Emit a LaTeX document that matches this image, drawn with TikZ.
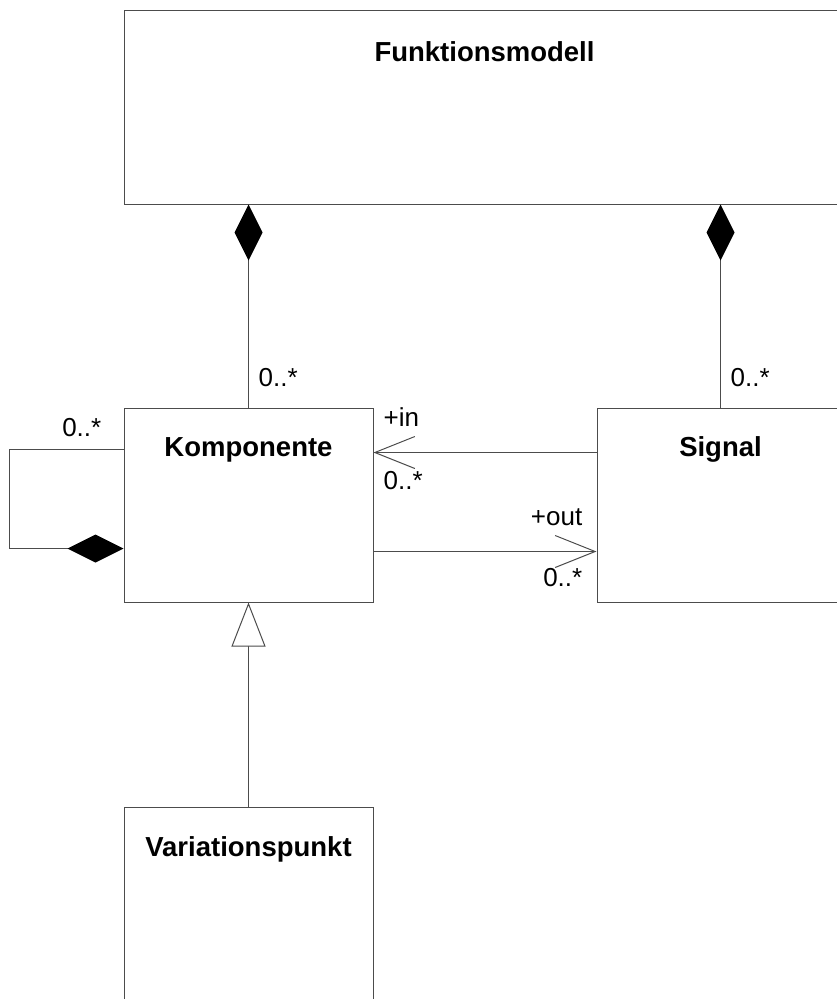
\documentclass[tikz,border=0pt]{standalone}
\usepackage{fontspec}
\setmainfont{Liberation Sans}
\usetikzlibrary{arrows.meta, positioning, calc}

\tikzset{
  classbox/.style={draw=black!70, line width=1pt, minimum height=194pt, inner sep=0pt},
  classname/.style={font=\fontsize{27.5}{32}\selectfont\bfseries, inner sep=0pt},
  mult/.style={font=\fontsize{26}{30}\selectfont, inner sep=0pt},
  comp/.style={draw=black!70, line width=1pt, -{Diamond[length=56pt,width=28pt,color=black]}},
  nav/.style={draw=black!70, line width=1pt, -{Straight Barb[length=40pt,width=32pt]}},
  inherit/.style={draw=black!70, line width=1pt, -{Triangle[open,length=44pt,width=34pt,fill=white]}}
}

\begin{document}
\begin{tikzpicture}[x=1pt, y=-1pt]
\useasboundingbox (0,0) rectangle (837,999);
\clip (0,0) rectangle (837,999);

% Classes
\node[classbox, minimum width=721pt] (fm) at (484.5,107) {};
\node[classbox, minimum width=249pt] (kp) at (248.5,505) {};
\node[classbox, minimum width=247pt] (sg) at (720.5,505) {};
\node[classbox, minimum width=249pt] (vp) at (248.5,904) {};

\node[classname] (fmname) at ($(fm.north)+(0,42)$) {Funktionsmodell};
\node[classname] (kpname) at ($(kp.north)+(0,42)$) {Komponente};
\node[classname] (sgname) at ($(sg.north)+(0,42)$) {Signal};
\node[classname] (vpname) at ($(vp.north)+(0,43)$) {Variationspunkt};

% Composition
\draw[comp] (kp.north) -- (kp.north |- fm.south);
\draw[comp] (sg.north) -- (sg.north |- fm.south);
\node[mult, anchor=west] (mkp) at ($(kp.north)+(10,-30)$) {0..*};
\node[mult, anchor=west] (msg) at ($(sg.north)+(10,-30)$) {0..*};

% Self composition
\coordinate (loopA) at ($(kp.north west)+(0,42)$);
\coordinate (loopB) at ($(kp.north west)+(0,141)$);
\draw[comp] (loopA) -- ++(-114,0) |- (loopB);
\node[mult, anchor=east] (mloop) at ($(kp.north west)+(-22,20)$) {0..*};

% in / out
\coordinate (inK) at ($(kp.north east)+(0,45)$);
\coordinate (inS) at (inK -| sg.west);
\draw[nav] (inS) -- (inK);
\node[mult, anchor=west] (inrole) at ($(inK)+(10,-35)$) {+in};
\node[mult, anchor=west] (inmult) at ($(inK)+(10,28)$) {0..*};

\coordinate (outK) at ($(kp.north east)+(0,144)$);
\coordinate (outS) at (outK -| sg.west);
\draw[nav] (outK) -- (outS);
\node[mult, anchor=east] (outrole) at ($(outS)+(-14,-34)$) {+out};
\node[mult, anchor=east] (outmult) at ($(outS)+(-14,26)$) {0..*};

% Generalization
\draw[inherit] (vp.north) -- (kp.south);
\end{tikzpicture}
\end{document}
